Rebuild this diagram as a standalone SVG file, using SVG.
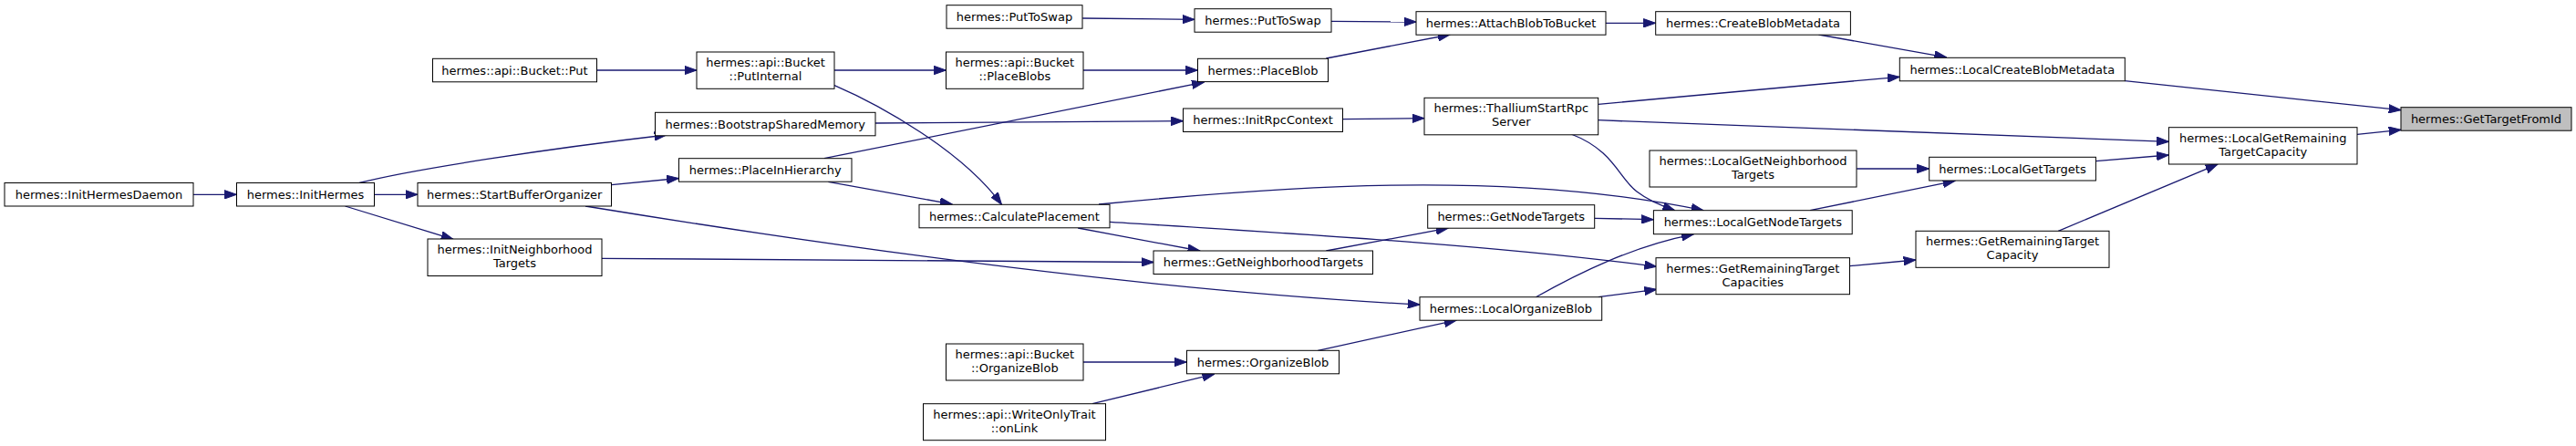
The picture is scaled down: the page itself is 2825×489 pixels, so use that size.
<svg xmlns="http://www.w3.org/2000/svg" width="2825" height="489" viewBox="0 0 2825 489">
<style>
.n rect{fill:#fff;stroke:#000;stroke-width:1}
.n text{font-family:"DejaVu Sans",sans-serif;font-size:13px;fill:#000;text-anchor:middle}
#root rect{fill:#bfbfbf}
.e path{fill:none;stroke:#191970;stroke-width:1.3;marker-end:url(#arr)}
</style>
<defs>
<marker id="arr" markerUnits="userSpaceOnUse" markerWidth="14" markerHeight="10" viewBox="0 0 14 10" refX="13.3" refY="5" orient="auto">
<path d="M0,0.3 L13.3,5 L0,9.7 z" fill="#191970" stroke="#191970" stroke-width="1"/>
</marker>
</defs>
<rect width="2825" height="489" fill="#fff"/>
<g class="e" id="edges">
<path d="M212,213.3 L259.5,213.3"/>
<path d="M410.5,213.3 L458,213.3"/>
<path d="M378.5,226 L497,262.3"/>
<path d="M394,200.5 C450,186 600,163 731,148"/>
<path d="M670.6,202.7 L744.4,195.5"/>
<path d="M642,226 C900,268 1250,318 1557,334"/>
<path d="M660,283.3 L1265,287.5"/>
<path d="M654.7,77 L764,77"/>
<path d="M915,77 L1037.5,77"/>
<path d="M914.6,93.3 C965,115 1055,165 1098.5,224.3"/>
<path d="M1188,77 L1313.5,77"/>
<path d="M1187.2,20 L1310,21.3"/>
<path d="M1459.8,23.3 L1553,24"/>
<path d="M1454.3,64 L1590,38"/>
<path d="M1761,25.3 L1815.7,25.3"/>
<path d="M1994.5,38 L2134.7,62.8"/>
<path d="M960,135 L1297.7,132.7"/>
<path d="M903.8,173.7 L1320.3,90.2"/>
<path d="M908.3,199.3 L1044,223.8"/>
<path d="M1472.4,130.7 L1562,129.7"/>
<path d="M1752.7,114.3 L2083.3,84.3"/>
<path d="M1752.7,131.7 L2378.4,155.3"/>
<path d="M1723,147 C1770,165 1775,195 1795,210 C1808,220 1820,225 1836.7,230.7"/>
<path d="M1205,224 C1400,205 1650,185 1868,230.7"/>
<path d="M1217,243.3 C1450,258 1650,270 1816.6,292.3"/>
<path d="M1182.2,250 L1315.8,275"/>
<path d="M1454.3,275 L1588,250.2"/>
<path d="M1748.7,239.3 L1813.4,240.7"/>
<path d="M2036.2,185 L2115.7,185"/>
<path d="M1985,230.7 L2144,198.3"/>
<path d="M2298.4,176.7 L2378.4,170"/>
<path d="M2585,147.3 L2633,142.3"/>
<path d="M2330.3,88.7 L2633,120.7"/>
<path d="M2028.5,291.7 L2101,285"/>
<path d="M2257.2,253.3 L2432,180.2"/>
<path d="M1752.7,325.7 L1816.6,317.3"/>
<path d="M1684.4,325.7 C1730,300 1790,270 1857.3,256.9"/>
<path d="M1188,397 L1301.3,397"/>
<path d="M1198,442.7 L1331.7,410.2"/>
<path d="M1445.3,384.3 L1597,351.2"/>
</g>
<g class="n" id="n_InitHermesDaemon"><rect x="5" y="200.5" width="207" height="25.5"/><text x="108.5" y="217.9">hermes::InitHermesDaemon</text></g>
<g class="n" id="n_InitHermes"><rect x="259.5" y="200.5" width="151" height="25.5"/><text x="335" y="217.9">hermes::InitHermes</text></g>
<g class="n" id="n_StartBufferOrganizer"><rect x="458" y="200.5" width="212.5" height="25.5"/><text x="564.3" y="217.9">hermes::StartBufferOrganizer</text></g>
<g class="n" id="n_InitNeighborhoodTargets"><rect x="469" y="262" width="191" height="40.5"/><text x="564.5" y="278">hermes::InitNeighborhood</text><text x="564.5" y="293">Targets</text></g>
<g class="n" id="n_BucketPut"><rect x="474.5" y="64.3" width="180" height="25.5"/><text x="564.5" y="81.7">hermes::api::Bucket::Put</text></g>
<g class="n" id="n_PutInternal"><rect x="764" y="57" width="151" height="40.3"/><text x="839.5" y="72.8">hermes::api::Bucket</text><text x="839.5" y="87.8">::PutInternal</text></g>
<g class="n" id="n_PlaceBlobs"><rect x="1037.5" y="57" width="150.5" height="40.3"/><text x="1112.8" y="72.8">hermes::api::Bucket</text><text x="1112.8" y="87.8">::PlaceBlobs</text></g>
<g class="n" id="n_PutToSwap1"><rect x="1038" y="5.7" width="149" height="25.5"/><text x="1112.5" y="23.1">hermes::PutToSwap</text></g>
<g class="n" id="n_PutToSwap2"><rect x="1310" y="9.7" width="150" height="25.5"/><text x="1385" y="27.1">hermes::PutToSwap</text></g>
<g class="n" id="n_PlaceBlob"><rect x="1313.5" y="64.3" width="143" height="25.3"/><text x="1385" y="81.6">hermes::PlaceBlob</text></g>
<g class="n" id="n_BootstrapSharedMemory"><rect x="718.5" y="123.3" width="241.5" height="25.5"/><text x="839.3" y="140.7">hermes::BootstrapSharedMemory</text></g>
<g class="n" id="n_InitRpcContext"><rect x="1297.5" y="119" width="175" height="25.5"/><text x="1385" y="136.4">hermes::InitRpcContext</text></g>
<g class="n" id="n_PlaceInHierarchy"><rect x="744.5" y="173.7" width="189.5" height="25.5"/><text x="839.3" y="191.1">hermes::PlaceInHierarchy</text></g>
<g class="n" id="n_CalculatePlacement"><rect x="1008" y="224.3" width="209" height="25.5"/><text x="1112.5" y="241.7">hermes::CalculatePlacement</text></g>
<g class="n" id="n_GetNeighborhoodTargets"><rect x="1265" y="275" width="240.5" height="25.5"/><text x="1385.3" y="292.4">hermes::GetNeighborhoodTargets</text></g>
<g class="n" id="n_BucketOrganizeBlob"><rect x="1037.5" y="377" width="150.5" height="40"/><text x="1112.8" y="392.8">hermes::api::Bucket</text><text x="1112.8" y="407.8">::OrganizeBlob</text></g>
<g class="n" id="n_OrganizeBlob"><rect x="1301.5" y="384.3" width="167" height="25.5"/><text x="1385" y="401.7">hermes::OrganizeBlob</text></g>
<g class="n" id="n_onLink"><rect x="1012.5" y="442.7" width="200" height="40"/><text x="1112.5" y="458.5">hermes::api::WriteOnlyTrait</text><text x="1112.5" y="473.5">::onLink</text></g>
<g class="n" id="n_AttachBlobToBucket"><rect x="1553" y="12.7" width="208" height="25.5"/><text x="1657" y="30.1">hermes::AttachBlobToBucket</text></g>
<g class="n" id="n_CreateBlobMetadata"><rect x="1815.7" y="12.7" width="213.7" height="25.5"/><text x="1922.5" y="30.1">hermes::CreateBlobMetadata</text></g>
<g class="n" id="n_ThalliumStartRpcServer"><rect x="1562" y="107.3" width="190.7" height="40.5"/><text x="1657.3" y="123.3">hermes::ThalliumStartRpc</text><text x="1657.3" y="138.3">Server</text></g>
<g class="n" id="n_LocalGetNeighborhoodTargets"><rect x="1809" y="165" width="227" height="40"/><text x="1922.5" y="180.8">hermes::LocalGetNeighborhood</text><text x="1922.5" y="195.8">Targets</text></g>
<g class="n" id="n_GetNodeTargets"><rect x="1565.7" y="224.7" width="183" height="25.5"/><text x="1657.2" y="242.1">hermes::GetNodeTargets</text></g>
<g class="n" id="n_LocalGetNodeTargets"><rect x="1813.4" y="230.7" width="217.8" height="26"/><text x="1922.3" y="248.3">hermes::LocalGetNodeTargets</text></g>
<g class="n" id="n_GetRemainingTargetCapacities"><rect x="1816" y="282.7" width="212.5" height="40"/><text x="1922.3" y="298.5">hermes::GetRemainingTarget</text><text x="1922.3" y="313.5">Capacities</text></g>
<g class="n" id="n_LocalOrganizeBlob"><rect x="1557" y="325.7" width="199.7" height="25.5"/><text x="1656.9" y="343.1">hermes::LocalOrganizeBlob</text></g>
<g class="n" id="n_LocalCreateBlobMetadata"><rect x="2083.3" y="63.3" width="247" height="25.5"/><text x="2206.8" y="80.7">hermes::LocalCreateBlobMetadata</text></g>
<g class="n" id="root"><rect x="2633" y="117.7" width="187" height="25.5"/><text x="2726.5" y="135.1">hermes::GetTargetFromId</text></g>
<g class="n" id="n_LocalGetRemainingTargetCapacity"><rect x="2378.4" y="139.7" width="206.6" height="40.3"/><text x="2481.7" y="155.5">hermes::LocalGetRemaining</text><text x="2481.7" y="170.5">TargetCapacity</text></g>
<g class="n" id="n_LocalGetTargets"><rect x="2115.7" y="172.3" width="182.7" height="25.7"/><text x="2207" y="189.8">hermes::LocalGetTargets</text></g>
<g class="n" id="n_GetRemainingTargetCapacity"><rect x="2101" y="253.3" width="212" height="40"/><text x="2207" y="269.1">hermes::GetRemainingTarget</text><text x="2207" y="284.1">Capacity</text></g>
</svg>
